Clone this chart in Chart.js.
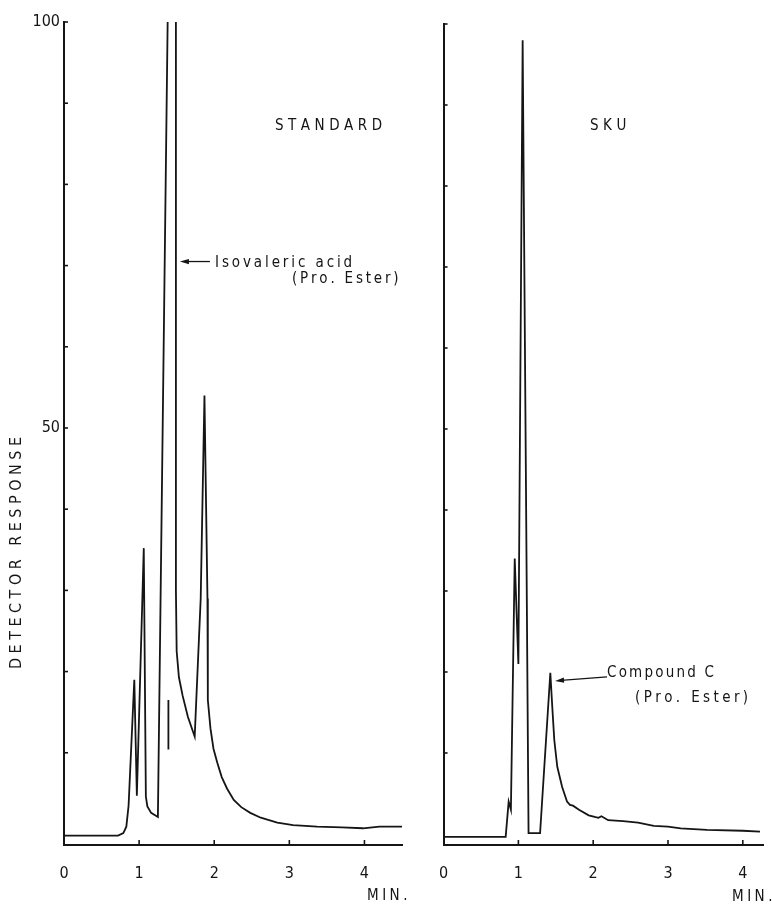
<!DOCTYPE html>
<html>
<head>
<meta charset="utf-8">
<script src="https://cdn.jsdelivr.net/npm/chart.js@4.4.0/dist/chart.umd.min.js"></script>
<style>
html,body{margin:0;padding:0;background:#fff}
#wrap{position:relative;width:772px;height:905px;overflow:hidden}
canvas{position:absolute;top:0}
</style>
</head>
<body>
<div id="wrap">
  <canvas id="std" width="420" height="905" style="left:0"></canvas>
  <canvas id="sku" width="352" height="905" style="left:420px"></canvas>
</div>
<script>
// retention time (min) and detector response
const stdTime = [0, 0.72, 0.79, 0.83, 0.86, 0.936, 0.97, 1.062, 1.09, 1.11, 1.16, 1.25, 1.38, 1.385, 1.49, 1.49, 1.5, 1.53, 1.58, 1.65, 1.74, 1.82, 1.87, 1.91, 1.915, 1.95, 1.99, 2.04, 2.1, 2.17, 2.26, 2.36, 2.48, 2.62, 2.84, 3.05, 3.37, 3.7, 3.98, 4.2, 4.5]
const stdResp = [-0.2, -0.2, 0.1, 0.9, 3.5, 19, 4.7, 35.2, 4.6, 3.4, 2.6, 2.1, 100, 104, 104, 30, 22.5, 19.3, 17, 14.4, 12, 29, 54, 29, 16.5, 13, 10.5, 8.8, 7, 5.6, 4.2, 3.3, 2.6, 2, 1.4, 1.1, 0.9, 0.8, 0.7, 0.9, 0.9]
// short pen mark inside the big standard peak
const markTime = [1.39, 1.39]
const markResp = [16.5, 10.4]

const skuTime = [0, 0.83, 0.87, 0.9, 0.951, 1.0, 1.057, 1.136, 1.29, 1.427, 1.453, 1.48, 1.52, 1.585, 1.65, 1.69, 1.73, 1.81, 1.94, 2.02, 2.07, 2.11, 2.2, 2.4, 2.6, 2.81, 3.0, 3.17, 3.52, 4.0, 4.23]
const skuResp = [-0.35, -0.35, 4, 3, 34, 21, 98, 0.1, 0.1, 19.9, 15.7, 11.6, 8.3, 5.8, 4.0, 3.6, 3.5, 3.0, 2.3, 2.1, 2.0, 2.2, 1.7, 1.6, 1.4, 1.0, 0.9, 0.7, 0.5, 0.4, 0.3]

const xTicks = [0, 1, 2, 3, 4]
const yTicks = [10, 20, 30, 40, 50, 60, 70, 80, 90, 100]
const yLabels = [50, 100]

const FONT = "'DejaVu Sans Condensed','Liberation Sans Narrow','DejaVu Sans',sans-serif"
const INK = '#151515'

const pts = (xs, ys) => xs.map((t, i) => ({x: t, y: ys[i]}))

function spacedWidth(ctx, txt, sp){
  let w = 0
  for (const ch of txt) w += ctx.measureText(ch).width + sp
  return w - sp
}
function spaced(ctx, txt, x, y, sp){
  for (const ch of txt){ ctx.fillText(ch, x, y); x += ctx.measureText(ch).width + sp }
}
function arrow(ctx, x1, y1, x2, y2){
  // from (x1,y1) to tip (x2,y2)
  const a = Math.atan2(y2 - y1, x2 - x1)
  ctx.beginPath(); ctx.moveTo(x1, y1); ctx.lineTo(x2 - 6*Math.cos(a), y2 - 6*Math.sin(a)); ctx.stroke()
  ctx.beginPath()
  ctx.moveTo(x2, y2)
  ctx.lineTo(x2 - 9*Math.cos(a) + 2.6*Math.sin(a), y2 - 9*Math.sin(a) - 2.6*Math.cos(a))
  ctx.lineTo(x2 - 9*Math.cos(a) - 2.6*Math.sin(a), y2 - 9*Math.sin(a) + 2.6*Math.cos(a))
  ctx.closePath(); ctx.fill()
}

// inward tick marks + annotations
const decor = {
  id: 'decor',
  afterDraw(chart){
    const {ctx, chartArea: ca} = chart
    const xs = chart.scales.x, ys = chart.scales.y
    ctx.save()
    ctx.strokeStyle = INK; ctx.fillStyle = INK; ctx.lineWidth = 1.6
    yTicks.forEach(v => {
      const py = ys.getPixelForValue(v)
      ctx.beginPath(); ctx.moveTo(ca.left, py); ctx.lineTo(ca.left + 4, py); ctx.stroke()
    })
    xTicks.slice(1).forEach(v => {
      const px = xs.getPixelForValue(v)
      ctx.beginPath(); ctx.moveTo(px, ca.bottom); ctx.lineTo(px, ca.bottom - 5); ctx.stroke()
    })
    ctx.textBaseline = 'middle'
    ctx.font = '15px ' + FONT
    const o = chart.options.plugins.decor
    o.texts.forEach(t => spaced(ctx, t[0], t[1], t[2], t[3]))
    if (o.arrow){
      const a = o.arrow
      const tx = xs.getPixelForValue(a.x) + a.dx, ty = ys.getPixelForValue(a.y) + a.dy
      ctx.lineWidth = 1.3
      arrow(ctx, tx + a.len, ty + a.rise, tx, ty)
    }
    if (o.ytitle){
      ctx.font = '16px ' + FONT
      ctx.translate(17, 553); ctx.rotate(-Math.PI/2)
      const w = spacedWidth(ctx, o.ytitle, 4.5)
      spaced(ctx, o.ytitle, -w/2, 0, 4.5)
    }
    ctx.restore()
  }
}

function makeChart(id, sets, xmax, opts){
  return new Chart(document.getElementById(id), {
    type: 'line',
    data: {datasets: sets.map(d => ({data: d, borderColor: INK, borderWidth: 1.8, pointRadius: 0, tension: 0, fill: false}))},
    options: {
      responsive: false, animation: false, devicePixelRatio: 1,
      layout: {padding: {top: opts.top, right: opts.right, left: 0, bottom: 0}},
      plugins: {legend: {display: false}, tooltip: {enabled: false}, decor: opts.decor},
      scales: {
        x: {
          type: 'linear', min: 0, max: xmax,
          afterBuildTicks: s => { s.ticks = xTicks.map(v => ({value: v})) },
          grid: {display: false, drawTicks: false},
          border: {display: true, color: INK, width: 2},
          ticks: {padding: 19, color: INK, font: {family: FONT, size: 16}, maxRotation: 0, autoSkip: false},
          afterFit: s => { s.height = 60 }
        },
        y: {
          type: 'linear', min: -1.36, max: 100,
          afterBuildTicks: s => { s.ticks = yTicks.map(v => ({value: v})) },
          grid: {display: false, drawTicks: false},
          border: {display: true, color: INK, width: 2},
          ticks: {display: opts.ylab, padding: 4, color: INK, font: {family: FONT, size: 16},
            callback: v => yLabels.includes(v) ? String(v) : ''},
          afterFit: s => { s.width = opts.left }
        }
      }
    },
    plugins: [decor]
  })
}

makeChart('std', [pts(stdTime, stdResp), pts(markTime, markResp)], 4.5, {
  top: 22, right: 18, left: 64, ylab: true,
  decor: {
    texts: [['STANDARD', 275, 126, 4.5], ['Isovaleric acid', 215, 263, 2.9], ['(Pro. Ester)', 292, 279, 2.8], ['MIN.', 367, 896, 3.5]],
    arrow: {x: 1.49, y: 70.5, dx: 4, dy: 0, len: 30, rise: 0},
    ytitle: 'DETECTOR RESPONSE'
  }
})

makeChart('sku', [pts(skuTime, skuResp)], 4.27, {
  top: 24, right: 9, left: 20, ylab: false,
  decor: {
    texts: [['SKU', 170, 126, 4.5], ['Compound C', 187, 673, 2.2], ['(Pro. Ester)', 215, 698, 3.4], ['MIN.', 312, 897, 3.5]],
    arrow: {x: 1.49, y: 18.9, dx: 0, dy: 0, len: 52, rise: -4}
  }
})
</script>
</body>
</html>
